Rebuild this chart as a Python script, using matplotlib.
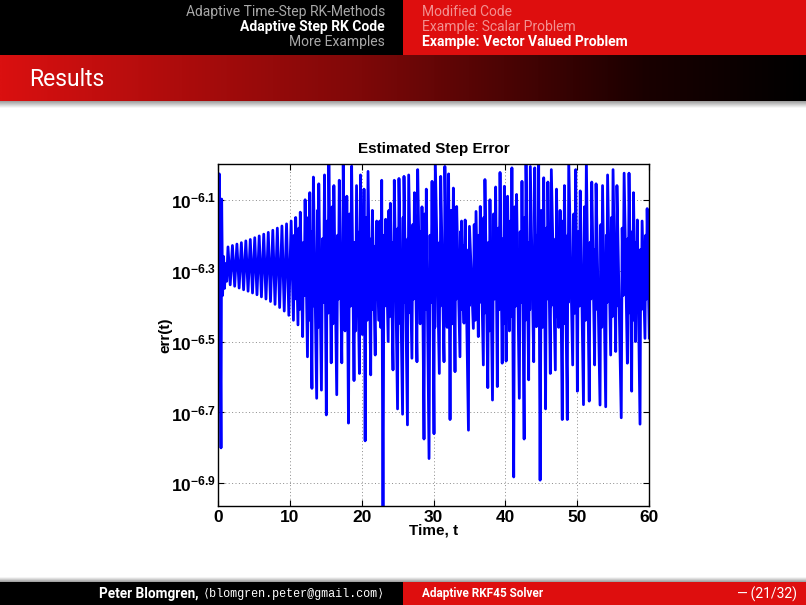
import numpy as np
import matplotlib
matplotlib.use('Agg')
import matplotlib.pyplot as plt
from matplotlib import font_manager
from matplotlib.colors import LinearSegmentedColormap
from matplotlib.patches import Rectangle
from matplotlib.ticker import FixedLocator, NullLocator, FixedFormatter

# ---------------- data (log10 of err) ----------------
init_t = [0.00, 0.06, 0.12, 0.22, 0.34, 0.46, 0.55, 0.68, 0.82, 0.95, 1.10, 1.25]
init_log = [-6.32, -6.41, -6.24, -6.027, -6.39, -6.80, -6.098, -6.37, -6.26, -6.35, -6.28, -6.33]

peak_t = [1.43, 2.05, 2.67, 3.29, 3.91, 4.53, 5.15, 5.77, 6.40, 7.03, 7.66, 8.29, 8.93, 9.57, 10.21,
          10.84, 11.48, 12.15, 12.80, 13.30, 14.05, 14.85, 15.45, 16.15, 16.90, 17.45, 17.95, 18.62,
          19.30, 19.85, 20.34, 20.90, 21.50, 22.10, 22.80, 23.35, 24.00, 24.55, 25.20, 25.90, 26.55,
          27.35, 27.80, 28.40, 29.00, 29.80, 30.25, 31.00, 31.58, 32.10, 32.76, 33.22, 33.90, 34.40,
          35.00, 35.91, 36.50, 37.15, 37.85, 38.64, 39.25, 39.85, 40.30, 40.90, 41.55, 42.30, 42.86,
          43.46, 44.07, 44.62, 45.32, 45.90, 46.38, 47.10, 47.60, 48.20, 48.80, 49.77, 50.40, 51.25,
          52.00, 52.60, 53.50, 54.20, 54.96, 55.50, 56.50, 57.18, 57.80, 58.34, 59.00, 59.70]
peak_log = [-6.233, -6.229, -6.225, -6.221, -6.216, -6.212, -6.207, -6.202, -6.197, -6.192, -6.186,
            -6.180, -6.174, -6.168, -6.160,
            -6.150, -6.135, -6.100, -6.080, -6.036, -6.055, -6.030, -5.990, -6.060, -6.045, -5.990,
            -6.090, -6.005, -6.060, -6.030, -6.070, -6.020, -6.130, -6.160, -6.045, -6.155, -6.110,
            -6.045, -6.040, -6.034, -6.030, -6.080, -6.015, -6.120, -6.070, -6.048, -5.990, -6.034,
            -6.006, -6.027, -6.067, -6.119, -6.160, -6.157, -6.175, -6.133, -6.119, -6.043, -6.100,
            -6.064, -6.023, -6.062, -6.090, -6.010, -6.085, -6.048, -5.990, -6.006, -6.010, -5.995,
            -6.038, -6.050, -6.015, -6.070, -6.130, -6.060, -5.990, -6.015, -6.075, -5.990, -6.050,
            -6.055, -6.060, -6.030, -6.015, -6.060, -6.025, -6.025, -6.080, -6.157, -6.160, -6.125]

trough_t = [1.74, 2.36, 2.98, 3.60, 4.22, 4.84, 5.46, 6.08, 6.71, 7.34, 7.97, 8.61, 9.25, 9.89, 10.53,
            11.16, 11.81, 12.48, 13.10, 13.76, 14.42, 15.10, 15.78, 16.55, 17.25, 17.70, 18.18, 18.95,
            19.70, 20.10, 20.50, 21.27, 21.90, 22.38, 22.98, 23.70, 24.37, 25.00, 25.70, 26.38, 27.00,
            27.70, 28.15, 28.68, 29.38, 30.07, 30.81, 31.46, 31.90, 32.30, 32.99, 33.68, 34.24, 34.86,
            35.54, 36.23, 36.93, 37.55, 38.20, 38.87, 39.55, 40.10, 40.55, 41.15, 41.93, 42.60, 43.23,
            43.93, 44.30, 44.82, 45.58, 46.24, 46.94, 47.40, 47.90, 48.60, 49.35, 50.00, 50.85, 51.65,
            52.40, 53.15, 53.94, 54.63, 55.33, 56.10, 56.95, 57.55, 58.10, 58.71, 59.40, 60.00]
trough_log = [-6.340, -6.344, -6.349, -6.354, -6.358, -6.363, -6.368, -6.374, -6.380, -6.387, -6.395,
              -6.404, -6.414, -6.426, -6.440,
              -6.453, -6.486, -6.543, -6.632, -6.660, -6.637, -6.707, -6.560, -6.650, -6.560, -6.470,
              -6.730, -6.610, -6.590, -6.480, -6.780, -6.594, -6.538, -6.440, -7.050, -6.500, -6.580,
              -6.690, -6.705, -6.735, -6.547, -6.557, -6.450, -6.775, -6.830, -6.760, -6.590, -6.557,
              -6.460, -6.720, -6.585, -6.543, -6.448, -6.750, -6.463, -6.486, -6.566, -6.630, -6.665,
              -6.627, -6.561, -6.555, -6.470, -6.882, -6.660, -6.775, -6.608, -6.557, -6.458, -6.891,
              -6.690, -6.590, -6.580, -6.460, -6.720, -6.720, -6.566, -6.640, -6.678, -6.668, -6.566,
              -6.679, -6.684, -6.538, -6.528, -6.715, -6.561, -6.640, -6.500, -6.733, -6.491, -6.490]

# small wiggles inside the dense central band (t > 10)
wig_hi_t = [10.65, 11.28, 11.93, 12.60, 13.17, 13.87, 14.57, 15.22, 15.91, 16.67, 17.32, 17.79, 18.33,
            19.07, 19.75, 20.18, 20.64, 21.35, 21.97, 22.52, 23.11, 23.80, 24.43, 25.07, 25.77, 26.44,
            27.12, 27.73, 28.23, 28.79, 29.52, 30.13, 30.87, 31.50, 31.97, 32.45, 33.07, 33.75, 34.29,
            34.91, 35.66, 36.32, 37.00, 37.65, 38.35, 39.00, 39.65, 40.17, 40.67, 41.28, 42.05, 42.69,
            43.31, 43.98, 44.41, 44.99, 45.69, 46.29, 46.99, 47.47, 48.00, 48.67, 49.49, 50.13, 50.98,
            51.77, 52.47, 53.27, 54.03, 54.74, 55.39, 56.23, 57.03, 57.63, 58.18, 58.81, 59.50]
wig_hi_log = [-6.20, -6.18, -6.22, -6.15, -6.19, -6.13, -6.21, -6.16, -6.12, -6.20,
              -6.24, -6.17, -6.14, -6.22, -6.19, -6.25, -6.15, -6.21, -6.23, -6.16,
              -6.20, -6.13, -6.22, -6.18, -6.15, -6.21, -6.17, -6.24, -6.19, -6.14,
              -6.20, -6.16, -6.22, -6.25, -6.18, -6.13, -6.21, -6.19, -6.23, -6.24,
              -6.17, -6.20, -6.15, -6.22, -6.14, -6.18, -6.21, -6.23, -6.16, -6.12,
              -6.19, -6.15, -6.22, -6.24, -6.20, -6.13, -6.18, -6.23, -6.21, -6.25,
              -6.16, -6.20, -6.14, -6.19, -6.12, -6.22, -6.24, -6.17, -6.20, -6.15,
              -6.23, -6.18, -6.21, -6.19, -6.22, -6.24, -6.20]
wig_lo_t = [10.74, 11.37, 12.03, 12.69, 13.23, 13.96, 14.70, 15.33, 16.03, 16.78, 17.38, 17.87, 18.47,
            19.18, 19.80, 20.26, 20.77, 21.42, 22.03, 22.66, 23.23, 23.90, 24.49, 25.13, 25.83, 26.49,
            27.23, 27.76, 28.32, 28.89, 29.66, 30.19, 30.94, 31.54, 32.03, 32.61, 33.14, 33.83, 34.35,
            34.95, 35.79, 36.41, 37.08, 37.75, 38.49, 39.12, 39.75, 40.23, 40.78, 41.42, 42.18, 42.77,
            43.38, 44.02, 44.51, 45.15, 45.79, 46.33, 47.05, 47.53, 48.10, 48.73, 49.63, 50.27, 51.12,
            51.88, 52.53, 53.38, 54.11, 54.85, 55.44, 56.37, 57.10, 57.72, 58.26, 58.90, 59.60]
wig_lo_log = [-6.38, -6.41, -6.37, -6.44, -6.40, -6.46, -6.39, -6.42, -6.45, -6.38,
              -6.36, -6.43, -6.40, -6.47, -6.39, -6.37, -6.44, -6.41, -6.38, -6.46,
              -6.40, -6.43, -6.37, -6.45, -6.39, -6.42, -6.38, -6.36, -6.44, -6.41,
              -6.39, -6.46, -6.40, -6.37, -6.43, -6.45, -6.38, -6.41, -6.36, -6.40,
              -6.44, -6.39, -6.42, -6.47, -6.38, -6.41, -6.45, -6.37, -6.43, -6.40,
              -6.39, -6.44, -6.41, -6.36, -6.42, -6.46, -6.38, -6.40, -6.43, -6.37,
              -6.45, -6.39, -6.42, -6.40, -6.44, -6.38, -6.41, -6.46, -6.39, -6.43,
              -6.40, -6.37, -6.42, -6.44, -6.39, -6.41, -6.38]

xticks = [0, 10, 20, 30, 40, 50, 60]
ytick_exps = [-6.9, -6.7, -6.5, -6.3, -6.1]
ytick_labels = [r'$\mathbf{10^{-6.9}}$', r'$\mathbf{10^{-6.7}}$', r'$\mathbf{10^{-6.5}}$',
                r'$\mathbf{10^{-6.3}}$', r'$\mathbf{10^{-6.1}}$']

# ---------------- fonts ----------------
names = {f.name for f in font_manager.fontManager.ttflist}
narrow = 'Liberation Sans Narrow' if 'Liberation Sans Narrow' in names else 'Roboto'
plt.rcParams['mathtext.fontset'] = 'custom'
plt.rcParams['mathtext.rm'] = 'Liberation Sans'
plt.rcParams['mathtext.bf'] = 'Liberation Sans:bold'
plt.rcParams['mathtext.it'] = 'Liberation Sans:italic'
plt.rcParams['font.family'] = ['Liberation Sans', 'DejaVu Sans']

W, H = 806, 605
fig = plt.figure(figsize=(W / 100, H / 100), dpi=100)
fig.patch.set_facecolor('white')

# ---------------- slide decorations ----------------
bg = fig.add_axes([0, 0, 1, 1])
bg.axis('off')
red = '#DE0E0E'
bg.add_patch(Rectangle((0, 0), 403, 55, color='black', lw=0))
bg.add_patch(Rectangle((403, 0), 403, 55, color=red, lw=0))
grad = np.linspace(0, 1, 512).reshape(1, -1)
cmap = LinearSegmentedColormap.from_list(
    'bar', [(0, '#DA1010'), (0.45, '#7E0808'), (0.8, '#1A0000'), (1, '#000000')])
bg.imshow(grad, extent=(0, W, 101, 55), cmap=cmap, aspect='auto', interpolation='bilinear')
shade = np.linspace(0, 1, 64).reshape(-1, 1)
scm = LinearSegmentedColormap.from_list('sh', ['#9a9a9a', '#ffffff'])
bg.imshow(shade, extent=(0, W, 108, 101), cmap=scm, aspect='auto', interpolation='bilinear')
bg.imshow(shade[::-1], extent=(0, W, 582, 577), cmap=scm, aspect='auto', interpolation='bilinear')
bg.add_patch(Rectangle((0, 582), 403, 23, color='black', lw=0))
bg.add_patch(Rectangle((403, 582), 403, 23, color=red, lw=0))
bg.set_xlim(0, W)
bg.set_ylim(H, 0)

hfs = 10
bg.text(385, 12, 'Adaptive Time-Step RK-Methods', color='#a8a8a8', ha='right', va='center',
        fontsize=hfs, family=narrow)
bg.text(385, 27, 'Adaptive Step RK Code', color='white', ha='right', va='center',
        fontsize=hfs, family=narrow, weight='bold')
bg.text(385, 42, 'More Examples', color='#a8a8a8', ha='right', va='center',
        fontsize=hfs, family=narrow)
bg.text(422, 12, 'Modified Code', color='#F29090', ha='left', va='center',
        fontsize=hfs, family=narrow)
bg.text(422, 27, 'Example: Scalar Problem', color='#F29090', ha='left', va='center',
        fontsize=hfs, family=narrow)
bg.text(422, 42, 'Example: Vector Valued Problem', color='white', ha='left', va='center',
        fontsize=hfs, family=narrow, weight='bold')
bg.text(29, 80, 'Results', color='white', ha='left', va='center', fontsize=16.5, family=narrow)

# footer
ffs = 8.5
em = bg.text(385, 594, '\u27e8blomgren.peter@gmail.com\u27e9', color='white', ha='right',
             va='center', fontsize=ffs, family=['Liberation Mono', 'DejaVu Sans Mono', 'DejaVu Sans'])
fig.canvas.draw()
bb = em.get_window_extent(fig.canvas.get_renderer())
left_px = bb.x0
bg.text(left_px - 4, 594, 'Peter Blomgren,', color='white', ha='right', va='center',
        fontsize=9.8, family=narrow, weight='bold')
bg.text(422, 594, 'Adaptive RKF45 Solver', color='white', ha='left', va='center',
        fontsize=ffs, family=narrow, weight='bold')
bg.text(797, 594, '\u2014\u2009(21/32)', color='white', ha='right', va='center',
        fontsize=10, family=[narrow, 'DejaVu Sans'])

# ---------------- chart ----------------
t_all = np.concatenate([init_t, peak_t, trough_t, wig_hi_t, wig_lo_t])
l_all = np.concatenate([init_log, peak_log, trough_log, wig_hi_log, wig_lo_log])
order = np.argsort(t_all, kind='stable')
t_all = t_all[order]
err = 10.0 ** l_all[order]

ax = fig.add_axes([217.7 / W, 1 - 505.7 / H, (649.3 - 217.7) / W, (505.7 - 164.3) / H])
ax.plot(t_all, err, color='#0000FF', lw=2.0)
ax.set_yscale('log')
ax.set_xlim(0, 60)
ax.set_ylim(10 ** -6.963, 10 ** -6.0)
ax.xaxis.set_major_locator(FixedLocator(xticks))
ax.yaxis.set_major_locator(FixedLocator(10.0 ** np.array(ytick_exps)))
ax.yaxis.set_major_formatter(FixedFormatter(ytick_labels))
ax.yaxis.set_minor_locator(NullLocator())
ax.xaxis.set_minor_locator(NullLocator())
ax.set_xticklabels([str(v) for v in xticks])
ax.tick_params(direction='in', top=True, right=True, length=4, width=0.8, labelsize=12.5, pad=3)
ax.tick_params(axis='y', pad=1)
for lab in ax.get_xticklabels():
    lab.set_fontweight('bold')
ax.grid(True, color='#8a8a8a', linestyle=(0, (1, 2.5)), lw=0.7)
for s in ax.spines.values():
    s.set_linewidth(1.0)
ax.set_title('Estimated Step Error', fontsize=11, fontweight='bold', pad=8)
ax.set_xlabel('Time, t', fontsize=11, fontweight='bold', labelpad=-1)
ax.set_ylabel('err(t)', fontsize=11, fontweight='bold', labelpad=-1)

fig.savefig('out.png', dpi=100)
